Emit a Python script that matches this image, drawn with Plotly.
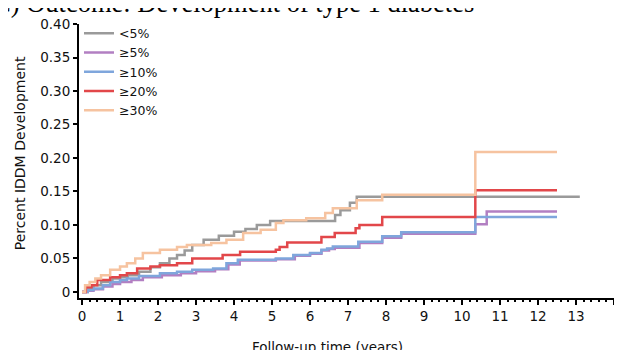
import plotly.graph_objects as go

# ---- data ----
series_names = ["<5%", "≥5%", "≥10%", "≥20%", "≥30%"]
series_colors = ["#9a9a9a", "#b27fc2", "#7fa6dc", "#e2474a", "#f6c3a0"]

t_lt5 = [0, 0.1, 0.3, 0.5, 0.8, 1.0, 1.2, 1.5, 1.8, 2.05, 2.3, 2.5, 2.7, 2.9, 3.2, 3.6, 4.0, 4.3, 4.6, 4.95, 6.66, 6.8, 7.05, 7.23, 13.1]
v_lt5 = [0, 0.005, 0.01, 0.015, 0.02, 0.022, 0.025, 0.03, 0.037, 0.043, 0.05, 0.055, 0.062, 0.07, 0.078, 0.084, 0.09, 0.094, 0.1, 0.106, 0.115, 0.122, 0.133, 0.142, 0.142]

t_ge5 = [0, 0.15, 0.3, 0.55, 0.8, 1.0, 1.3, 1.6, 2.1, 2.6, 3.0, 3.5, 3.85, 4.15, 5.1, 5.6, 6.0, 6.3, 6.5, 6.65, 7.3, 7.9, 8.4, 10.35, 10.65, 12.5]
v_ge5 = [0, 0.002, 0.004, 0.008, 0.012, 0.015, 0.018, 0.022, 0.025, 0.028, 0.031, 0.034, 0.041, 0.047, 0.049, 0.054, 0.057, 0.062, 0.064, 0.066, 0.073, 0.081, 0.087, 0.101, 0.12, 0.12]

t_ge10 = [0, 0.15, 0.3, 0.55, 0.74, 1.0, 1.18, 1.5, 2.05, 2.5, 2.9, 3.45, 3.8, 4.1, 5.1, 5.56, 6.0, 6.3, 6.45, 6.6, 7.27, 7.9, 8.4, 10.35, 12.5]
v_ge10 = [0, 0.003, 0.005, 0.01, 0.015, 0.018, 0.02, 0.024, 0.028, 0.03, 0.033, 0.035, 0.043, 0.048, 0.05, 0.055, 0.058, 0.063, 0.065, 0.068, 0.075, 0.083, 0.089, 0.112, 0.112]

t_ge20 = [0, 0.1, 0.25, 0.4, 0.74, 1.0, 1.18, 1.45, 1.8, 2.05, 2.5, 2.9, 3.7, 4.16, 5.1, 5.2, 5.4, 6.3, 6.65, 7.2, 7.3, 7.9, 10.35, 12.5]
v_ge20 = [0, 0.007, 0.01, 0.018, 0.022, 0.025, 0.028, 0.035, 0.038, 0.04, 0.043, 0.05, 0.055, 0.06, 0.063, 0.067, 0.074, 0.082, 0.088, 0.095, 0.1, 0.112, 0.152, 0.152]

t_ge30 = [0, 0.08, 0.2, 0.35, 0.5, 0.74, 1.0, 1.18, 1.4, 1.6, 2.05, 2.5, 2.76, 3.4, 3.8, 4.24, 4.7, 5.1, 5.3, 5.9, 6.4, 6.6, 7.23, 7.9, 10.35, 12.5]
v_ge30 = [0, 0.01, 0.015, 0.02, 0.025, 0.033, 0.038, 0.043, 0.05, 0.058, 0.063, 0.067, 0.07, 0.073, 0.078, 0.088, 0.093, 0.103, 0.107, 0.110, 0.118, 0.125, 0.137, 0.145, 0.209, 0.209]

x_tick_vals = list(range(0, 15))
y_tick_vals = [0, 0.05, 0.10, 0.15, 0.20, 0.25, 0.30, 0.35, 0.40]
y_tick_text = ["0", "0.05", "0.10", "0.15", "0.20", "0.25", "0.30", "0.35", "0.40"]

title_text = "C) Outcome: Development of type 1 diabetes"
x_title = "Follow-up time (years)"
y_title = "Percent IDDM Development"

series_t = [t_lt5, t_ge5, t_ge10, t_ge20, t_ge30]
series_v = [v_lt5, v_ge5, v_ge10, v_ge20, v_ge30]

FONT = "DejaVu Sans"

fig = go.Figure()
for name, col, tt, vv in zip(series_names, series_colors, series_t, series_v):
    fig.add_trace(go.Scatter(x=tt, y=vv, mode="lines", name=name,
                             line=dict(color=col, width=2.5, shape="hv")))

fig.update_layout(
    width=614, height=342,
    margin=dict(l=71, r=8, t=16, b=52),
    plot_bgcolor="white", paper_bgcolor="white",
    font=dict(family=FONT, size=13, color="#111111"),
    showlegend=True,
    legend=dict(x=0.0, y=1.02, xanchor="left", yanchor="top",
                bgcolor="rgba(0,0,0,0)", font=dict(family=FONT, size=12.5),
                tracegroupgap=0, itemwidth=30),
)

fig.update_xaxes(
    range=[-0.08, 14], tickvals=x_tick_vals, showgrid=False, zeroline=False,
    showline=True, linecolor="black", linewidth=2,
    ticks="outside", ticklen=5, tickwidth=1.5, tickcolor="black",
    minor=dict(dtick=0.2, tick0=0, ticks="outside", ticklen=2, tickwidth=1.5, tickcolor="black"),
    tickfont=dict(family=FONT, size=13.5),
)
fig.update_yaxes(
    range=[-0.009, 0.40], tickvals=y_tick_vals, ticktext=y_tick_text,
    showgrid=False, zeroline=False,
    showline=True, linecolor="black", linewidth=2,
    ticks="outside", ticklen=4, tickwidth=1.5, tickcolor="black",
    tickfont=dict(family=FONT, size=13.5),
)

fig.add_annotation(text=title_text, xref="paper", yref="paper",
                   x=(-9 - 79) / 535, y=1.016, xanchor="left", yanchor="bottom",
                   showarrow=False,
                   font=dict(family="Liberation Serif", size=26.5, color="black"))
fig.add_annotation(text=x_title, xref="paper", yref="paper",
                   x=0.4636, y=-0.142, xanchor="center", yanchor="top",
                   showarrow=False, font=dict(family=FONT, size=13.5))
fig.add_annotation(text=y_title, xref="paper", yref="paper",
                   x=-0.110, y=0.529, xanchor="center", yanchor="middle",
                   textangle=-90, showarrow=False, font=dict(family=FONT, size=14))

fig.write_html("out.html")
